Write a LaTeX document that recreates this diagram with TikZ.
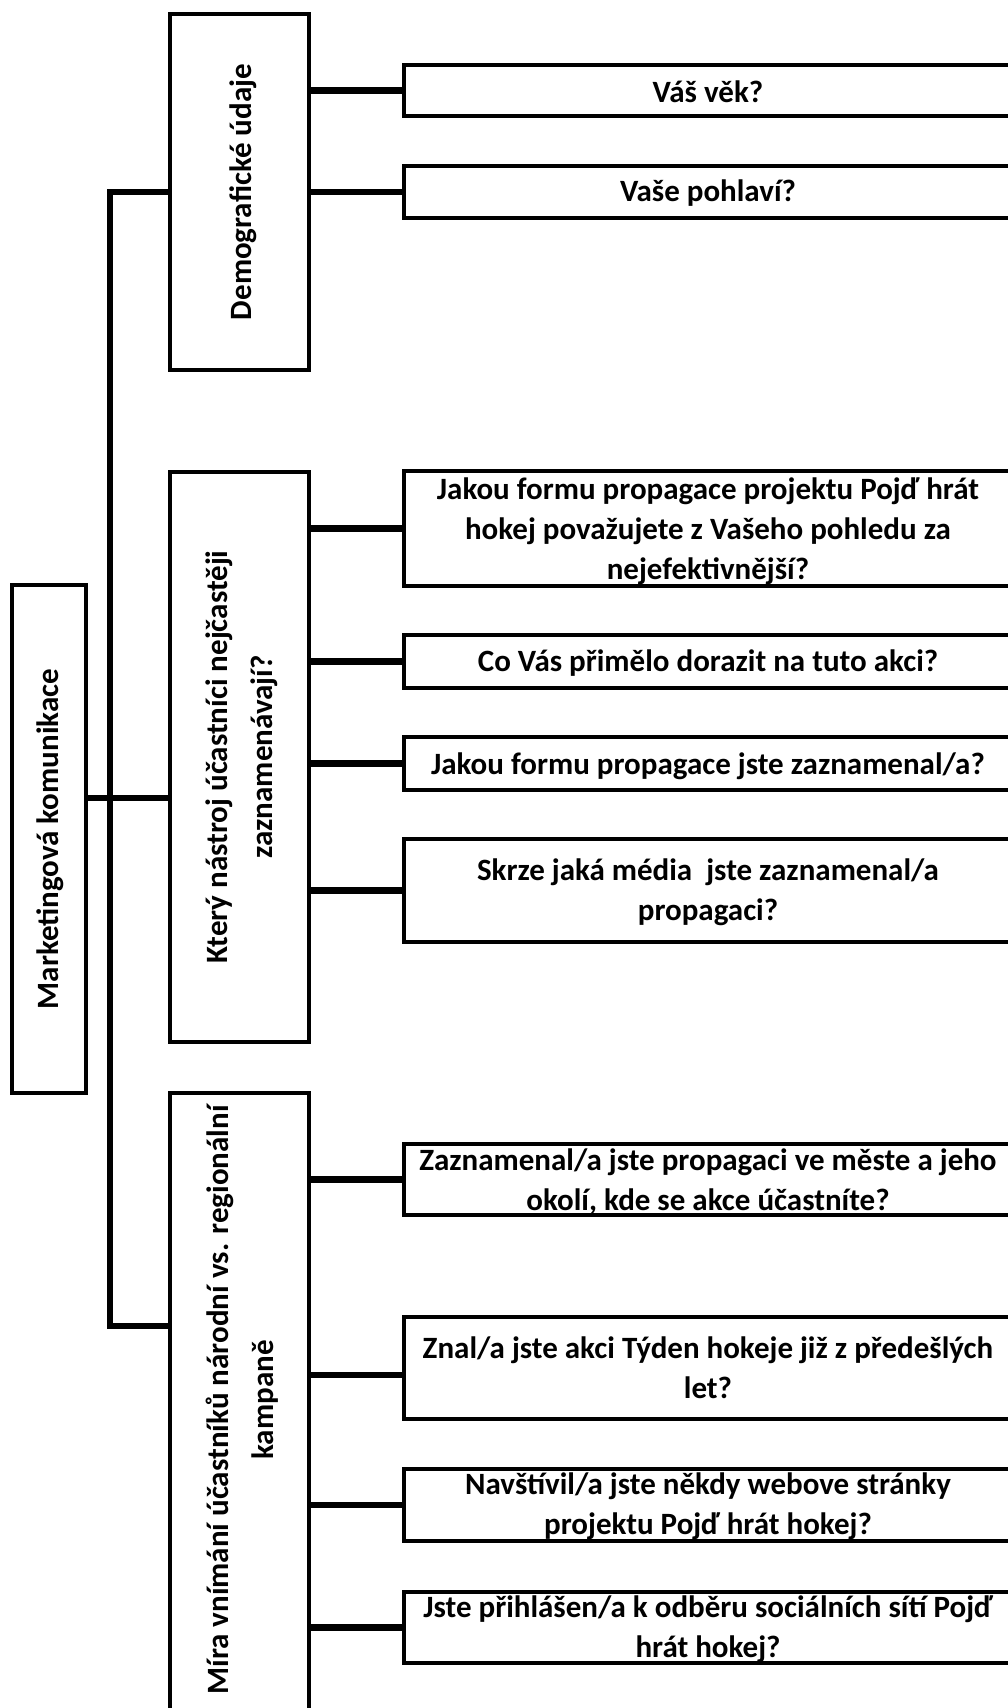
\documentclass[tikz,border=0pt]{standalone}
\usepackage{fontspec}
\setmainfont{Carlito}
\begin{document}
\begin{tikzpicture}[x=1pt,y=-1pt,
  box/.style={draw=black, line width=4pt, fill=white, inner sep=0pt, rectangle},
  conn/.style={draw=black, line width=6.5pt, line cap=butt, line join=miter},
  qtext/.style={font=\fontsize{31}{40}\selectfont\bfseries, align=center, inner sep=0pt, text=black},
  vtext/.style={font=\fontsize{31}{45}\selectfont\bfseries, align=center, inner sep=0pt, text=black, rotate=90}
]
\useasboundingbox (0,0) rectangle (1008,1708);
\clip (0,0) rectangle (1008,1708);

% root and categories
\node[box, minimum width=74pt, minimum height=508pt] (root) at (49,839) {};
\node[vtext] (roott) at (50,839) {Marketingová komunikace};
\node[box, minimum width=139pt, minimum height=356pt] (cat1) at (239.5,192) {};
\node[vtext] (cat1t) at (243,192) {Demografické údaje};
\node[box, minimum width=139pt, minimum height=570pt] (cat2) at (239.5,757) {};
\node[vtext] (cat2t) at (242,757) {Který nástroj účastníci nejčastěji\\zaznamenávají?};
\node[box, minimum width=139pt, minimum height=619pt] (cat3) at (239.5,1402.5) {};
\node[vtext] (cat3t) at (242,1400) {Míra vnímání účastníků národní vs. regionální\\kampaně};

% question boxes
\node[box, minimum width=616pt, minimum height=51pt] (q1) at (712,90.5) {};
\node[qtext] (q1t) at (708,92) {Váš věk?};
\node[box, minimum width=616pt, minimum height=52pt] (q2) at (712,192) {};
\node[qtext] (q2t) at (708,193.5) {Vaše pohlaví?};

\node[box, minimum width=616pt, minimum height=115pt] (q3) at (712,528.5) {};
\node[qtext] (q3t) at (708,531) {Jakou formu propagace projektu Pojď hrát\\hokej považujete z Vašeho pohledu za\\nejefektivnější?};
\node[box, minimum width=616pt, minimum height=53pt] (q4) at (712,661.5) {};
\node[qtext] (q4t) at (708,663.5) {Co Vás přimělo dorazit na tuto akci?};
\node[box, minimum width=616pt, minimum height=53pt] (q5) at (712,763.5) {};
\node[qtext] (q5t) at (708,766) {Jakou formu propagace jste zaznamenal/a?};
\node[box, minimum width=616pt, minimum height=103pt] (q6) at (712,890.5) {};
\node[qtext] (q6t) at (708,892.5) {Skrze jaká média\ \ jste zaznamenal/a\\propagaci?};

\node[box, minimum width=616pt, minimum height=71pt] (q7) at (712,1179.5) {};
\node[qtext] (q7t) at (708,1181.5) {Zaznamenal/a jste propagaci ve měste a jeho\\okolí, kde se akce účastníte?};
\node[box, minimum width=616pt, minimum height=102pt] (q8) at (712,1368) {};
\node[qtext] (q8t) at (708,1368) {Znal/a jste akci Týden hokeje již z předešlých\\let?};
\node[box, minimum width=616pt, minimum height=72pt] (q9) at (712,1505) {};
\node[qtext] (q9t) at (708,1506) {Navštívil/a jste někdy webove stránky\\projektu Pojď hrát hokej?};
\node[box, minimum width=616pt, minimum height=71pt] (q10) at (712,1627.5) {};
\node[qtext] (q10t) at (708,1629.5) {Jste přihlášen/a k odběru sociálních sítí Pojď\\hrát hokej?};

% spine
\coordinate (spx) at (110,798);
\coordinate (j3) at (170,1326);
\coordinate (j2) at (0,798);
\coordinate (j8) at (0,1375);
\draw[conn] (cat1.west) -| (spx) |- (j3);
\draw[conn] (root.east |- j2) -- (cat2.west |- j2);

% category to question connectors
\draw[conn] (cat1.east |- q1.west) -- (q1.west);
\draw[conn] (cat1.east |- q2.west) -- (q2.west);
\draw[conn] (cat2.east |- q3.west) -- (q3.west);
\draw[conn] (cat2.east |- q4.west) -- (q4.west);
\draw[conn] (cat2.east |- q5.west) -- (q5.west);
\draw[conn] (cat2.east |- q6.west) -- (q6.west);
\draw[conn] (cat3.east |- q7.west) -- (q7.west);
\draw[conn] (cat3.east |- j8) -- (q8.west |- j8);
\draw[conn] (cat3.east |- q9.west) -- (q9.west);
\draw[conn] (cat3.east |- q10.west) -- (q10.west);
\end{tikzpicture}
\end{document}
